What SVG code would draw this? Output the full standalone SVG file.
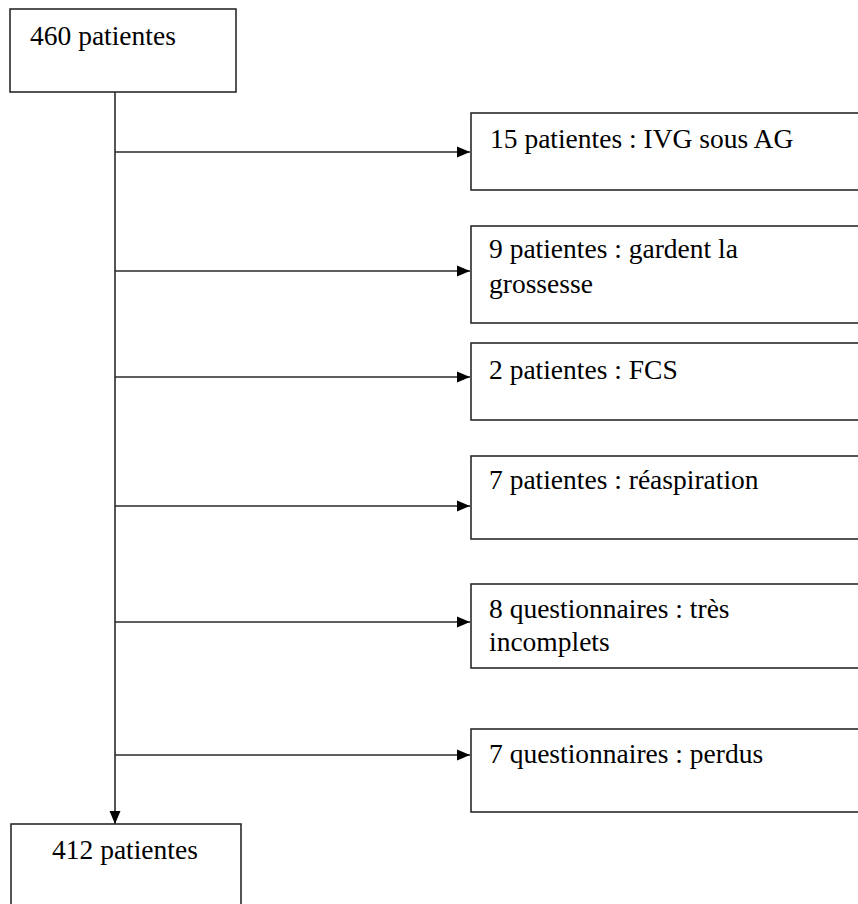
<svg xmlns="http://www.w3.org/2000/svg" width="858" height="904" viewBox="0 0 858 904">
<style>
.box{fill:#fff;stroke:#2a2a2a;stroke-width:1.6}
.lbl{font-family:"Liberation Serif","Times New Roman",serif;font-size:27.5px;fill:#000}
.con{fill:none;stroke:#2a2a2a;stroke-width:1.6}
</style>
<defs>
<marker id="ah" markerUnits="userSpaceOnUse" markerWidth="14" markerHeight="12" refX="13" refY="6" orient="auto">
<path d="M0,0.5 L13,6 L0,11.5 z" fill="#000"/>
</marker>
</defs>
<rect width="858" height="904" fill="#fff"/>
<g id="connectors">
<line class="con" x1="115" y1="92" x2="115" y2="824" marker-end="url(#ah)"/>
<line class="con" x1="115" y1="152" x2="470" y2="152" marker-end="url(#ah)"/>
<line class="con" x1="115" y1="271" x2="470" y2="271" marker-end="url(#ah)"/>
<line class="con" x1="115" y1="377" x2="470" y2="377" marker-end="url(#ah)"/>
<line class="con" x1="115" y1="506" x2="470" y2="506" marker-end="url(#ah)"/>
<line class="con" x1="115" y1="622" x2="470" y2="622" marker-end="url(#ah)"/>
<line class="con" x1="115" y1="755" x2="470" y2="755" marker-end="url(#ah)"/>
</g>
<g id="n-start">
<rect class="box" x="10" y="9" width="226" height="83"/>
<text class="lbl" x="30" y="45">460 patientes</text>
</g>
<g id="n-ivg">
<rect class="box" x="471" y="113" width="400" height="77"/>
<text class="lbl" x="490" y="148">15 patientes : IVG sous AG</text>
</g>
<g id="n-grossesse">
<rect class="box" x="471" y="226" width="400" height="97"/>
<text class="lbl" x="489" y="258">9 patientes : gardent la</text>
<text class="lbl" x="489" y="293">grossesse</text>
</g>
<g id="n-fcs">
<rect class="box" x="471" y="343" width="400" height="77"/>
<text class="lbl" x="489" y="379">2 patientes : FCS</text>
</g>
<g id="n-reasp">
<rect class="box" x="471" y="456" width="400" height="83"/>
<text class="lbl" x="489" y="489">7 patientes : réaspiration</text>
</g>
<g id="n-incomplets">
<rect class="box" x="471" y="584" width="400" height="84"/>
<text class="lbl" x="489" y="618">8 questionnaires : très</text>
<text class="lbl" x="489" y="651">incomplets</text>
</g>
<g id="n-perdus">
<rect class="box" x="471" y="729" width="400" height="83"/>
<text class="lbl" x="489" y="763">7 questionnaires : perdus</text>
</g>
<g id="n-end">
<rect class="box" x="11" y="824" width="230" height="100"/>
<text class="lbl" x="52" y="859">412 patientes</text>
</g>
</svg>
